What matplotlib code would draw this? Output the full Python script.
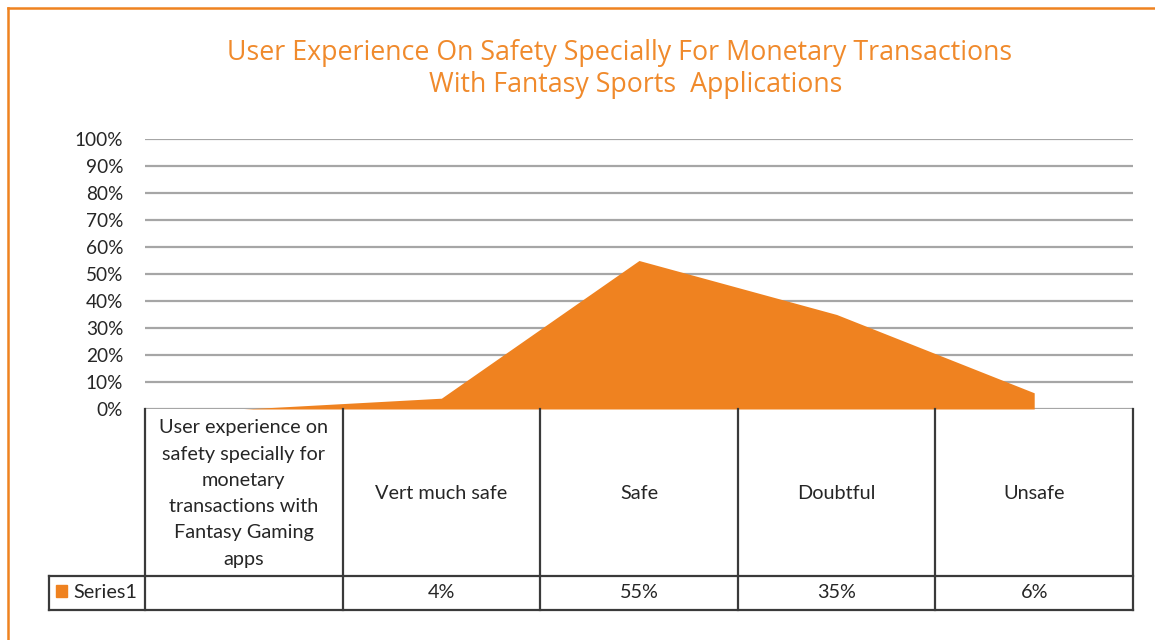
import matplotlib
matplotlib.use("Agg")
import matplotlib.pyplot as plt
from matplotlib.patches import Rectangle
from matplotlib.lines import Line2D

categories = ["User experience on\nsafety specially for\nmonetary\ntransactions with\nFantasy Gaming\napps",
              "Vert much safe", "Safe", "Doubtful", "Unsafe"]
values = [0, 4, 55, 35, 6]
value_labels = ["", "4%", "55%", "35%", "6%"]
series_name = "Series1"
yticks = [0, 10, 20, 30, 40, 50, 60, 70, 80, 90, 100]
title_lines = ["User Experience On Safety Specially For Monetary Transactions",
               "With Fantasy Sports  Applications"]

ORANGE = "#EF8220"
TITLE_C = "#F08A2C"
GRID = "#A6A6A6"
DARK = "#3A3A3A"
TXT = "#262626"
FONT = ["Lato", "DejaVu Sans"]

W, H = 1155, 640
fig = plt.figure(figsize=(W / 100, H / 100), dpi=100)
plt.rcParams['font.family'] = FONT

def fx(px):
    return px / W

def fy(py):
    return 1 - py / H

# Outer orange border (chart frame, partially cropped)
fig.add_artist(Line2D([fx(8), fx(8)], [fy(8), fy(640)], color=ORANGE, lw=1.8, transform=fig.transFigure))
fig.add_artist(Line2D([fx(8), fx(1155)], [fy(8), fy(8)], color=ORANGE, lw=1.8, transform=fig.transFigure))

left, right, top, bottom = 145, 1133, 139, 409
ax = fig.add_axes([fx(left), fy(bottom), fx(right - left), (bottom - top) / H])

n = len(categories)
x = list(range(n))
ax.fill_between(x, values, 0, color=ORANGE, lw=0, zorder=3)
ax.set_xlim(-0.5, n - 0.5)
ax.set_ylim(0, 100)
ax.set_yticks(yticks)
ax.set_yticklabels([f"{t}%" for t in yticks], fontsize=13.7, color=TXT)
ax.tick_params(axis='y', length=0, pad=15.8)
ax.set_xticks([])
for s in ax.spines.values():
    s.set_visible(False)
for t in yticks:
    ax.axhline(t, color=GRID, lw=1.6, zorder=1)

for (cxp, cyp), line in zip([(620, 53), (636, 85)], title_lines):
    fig.text(fx(cxp), fy(cyp), line, ha='center', va='center', fontsize=19.3,
             color=TITLE_C, family=["Open Sans", "DejaVu Sans"])

# Data table
cell_w = (right - left) / n
row1_bot = 576
row2_bot = 610
leg_left = 49
cols = [left + i * cell_w for i in range(n + 1)]
lines = []
for cx in cols:
    lines.append(([cx, cx], [bottom, row2_bot]))
lines.append(([leg_left, leg_left], [row1_bot, row2_bot]))
lines.append(([leg_left, right], [row1_bot, row1_bot]))
lines.append(([leg_left, right], [row2_bot, row2_bot]))
for xs, ys in lines:
    fig.add_artist(Line2D([fx(v) for v in xs], [fy(v) for v in ys], color=DARK, lw=1.6,
                          transform=fig.transFigure, solid_capstyle='projecting'))

for i, (cat, vl) in enumerate(zip(categories, value_labels)):
    cx = left + (i + 0.5) * cell_w
    fig.text(fx(cx), fy(493.5), cat, ha='center', va='center',
             fontsize=14.3, color=TXT, linespacing=1.66)
    if vl:
        fig.text(fx(cx), fy((row1_bot + row2_bot) / 2), vl, ha='center', va='center',
                 fontsize=14.3, color=TXT)

fig.add_artist(Rectangle((fx(56), fy(597)), fx(11), (597 - 585) / H, color=ORANGE,
                         transform=fig.transFigure))
fig.text(fx(73), fy(593), series_name, ha='left', va='center', fontsize=14.3, color=TXT)

fig.savefig("out.png", dpi=100, facecolor="white")
